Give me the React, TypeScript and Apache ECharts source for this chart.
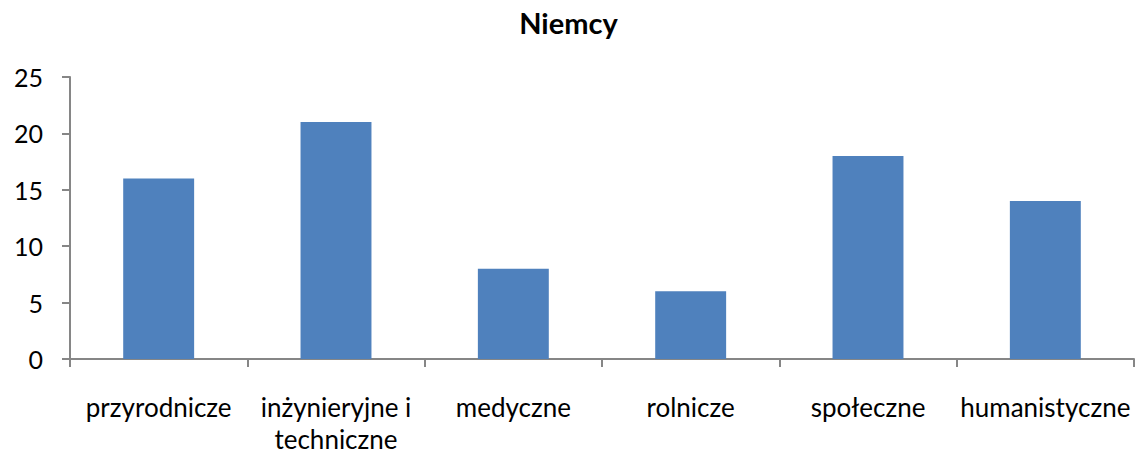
import React, { useEffect, useRef } from "react";
import * as echarts from "echarts";

const title = "Niemcy";
const categories = [
  "przyrodnicze",
  "inżynieryjne i\ntechniczne",
  "medyczne",
  "rolnicze",
  "społeczne",
  "humanistyczne",
];
const values = [16, 21, 8, 6, 18, 14];
const yMin = 0;
const yMax = 25;
const yInterval = 5;

const FONT = "Lato";

export default function App() {
  const ref = useRef<HTMLDivElement>(null);
  useEffect(() => {
    if (!ref.current) return;
    const chart = echarts.init(ref.current, null, { renderer: "svg" });
    chart.setOption({
      animation: false,
      backgroundColor: "#ffffff",
      title: {
        text: title,
        left: "center",
        top: 3,
        textStyle: { fontFamily: FONT, fontSize: 29, fontWeight: "bold", color: "#000" },
      },
      grid: { left: 70, right: 3, top: 77, bottom: 96, containLabel: false },
      xAxis: {
        type: "category",
        data: categories,
        axisLine: { show: true, lineStyle: { color: "#868686", width: 2 } },
        axisTick: { show: true, length: 8, alignWithLabel: false, lineStyle: { color: "#868686", width: 2 } },
        axisLabel: {
          interval: 0,
          margin: 32,
          fontFamily: FONT,
          fontSize: 26,
          lineHeight: 32,
          color: "#000",
        },
      },
      yAxis: {
        type: "value",
        min: yMin,
        max: yMax,
        interval: yInterval,
        splitLine: { show: false },
        axisLine: { show: true, lineStyle: { color: "#868686", width: 2 } },
        axisTick: { show: true, length: 8, lineStyle: { color: "#868686", width: 2 } },
        axisLabel: { margin: 27, fontFamily: FONT, fontSize: 25, color: "#000" },
      },
      series: [
        {
          type: "bar",
          data: values,
          barWidth: "40%",
          itemStyle: { color: "#4F81BD" },
        },
      ],
    });
    return () => chart.dispose();
  }, []);
  return (
    <div
      ref={ref}
      style={{ position: "absolute", left: 0, top: 0, width: 1137, height: 455 }}
    />
  );
}
